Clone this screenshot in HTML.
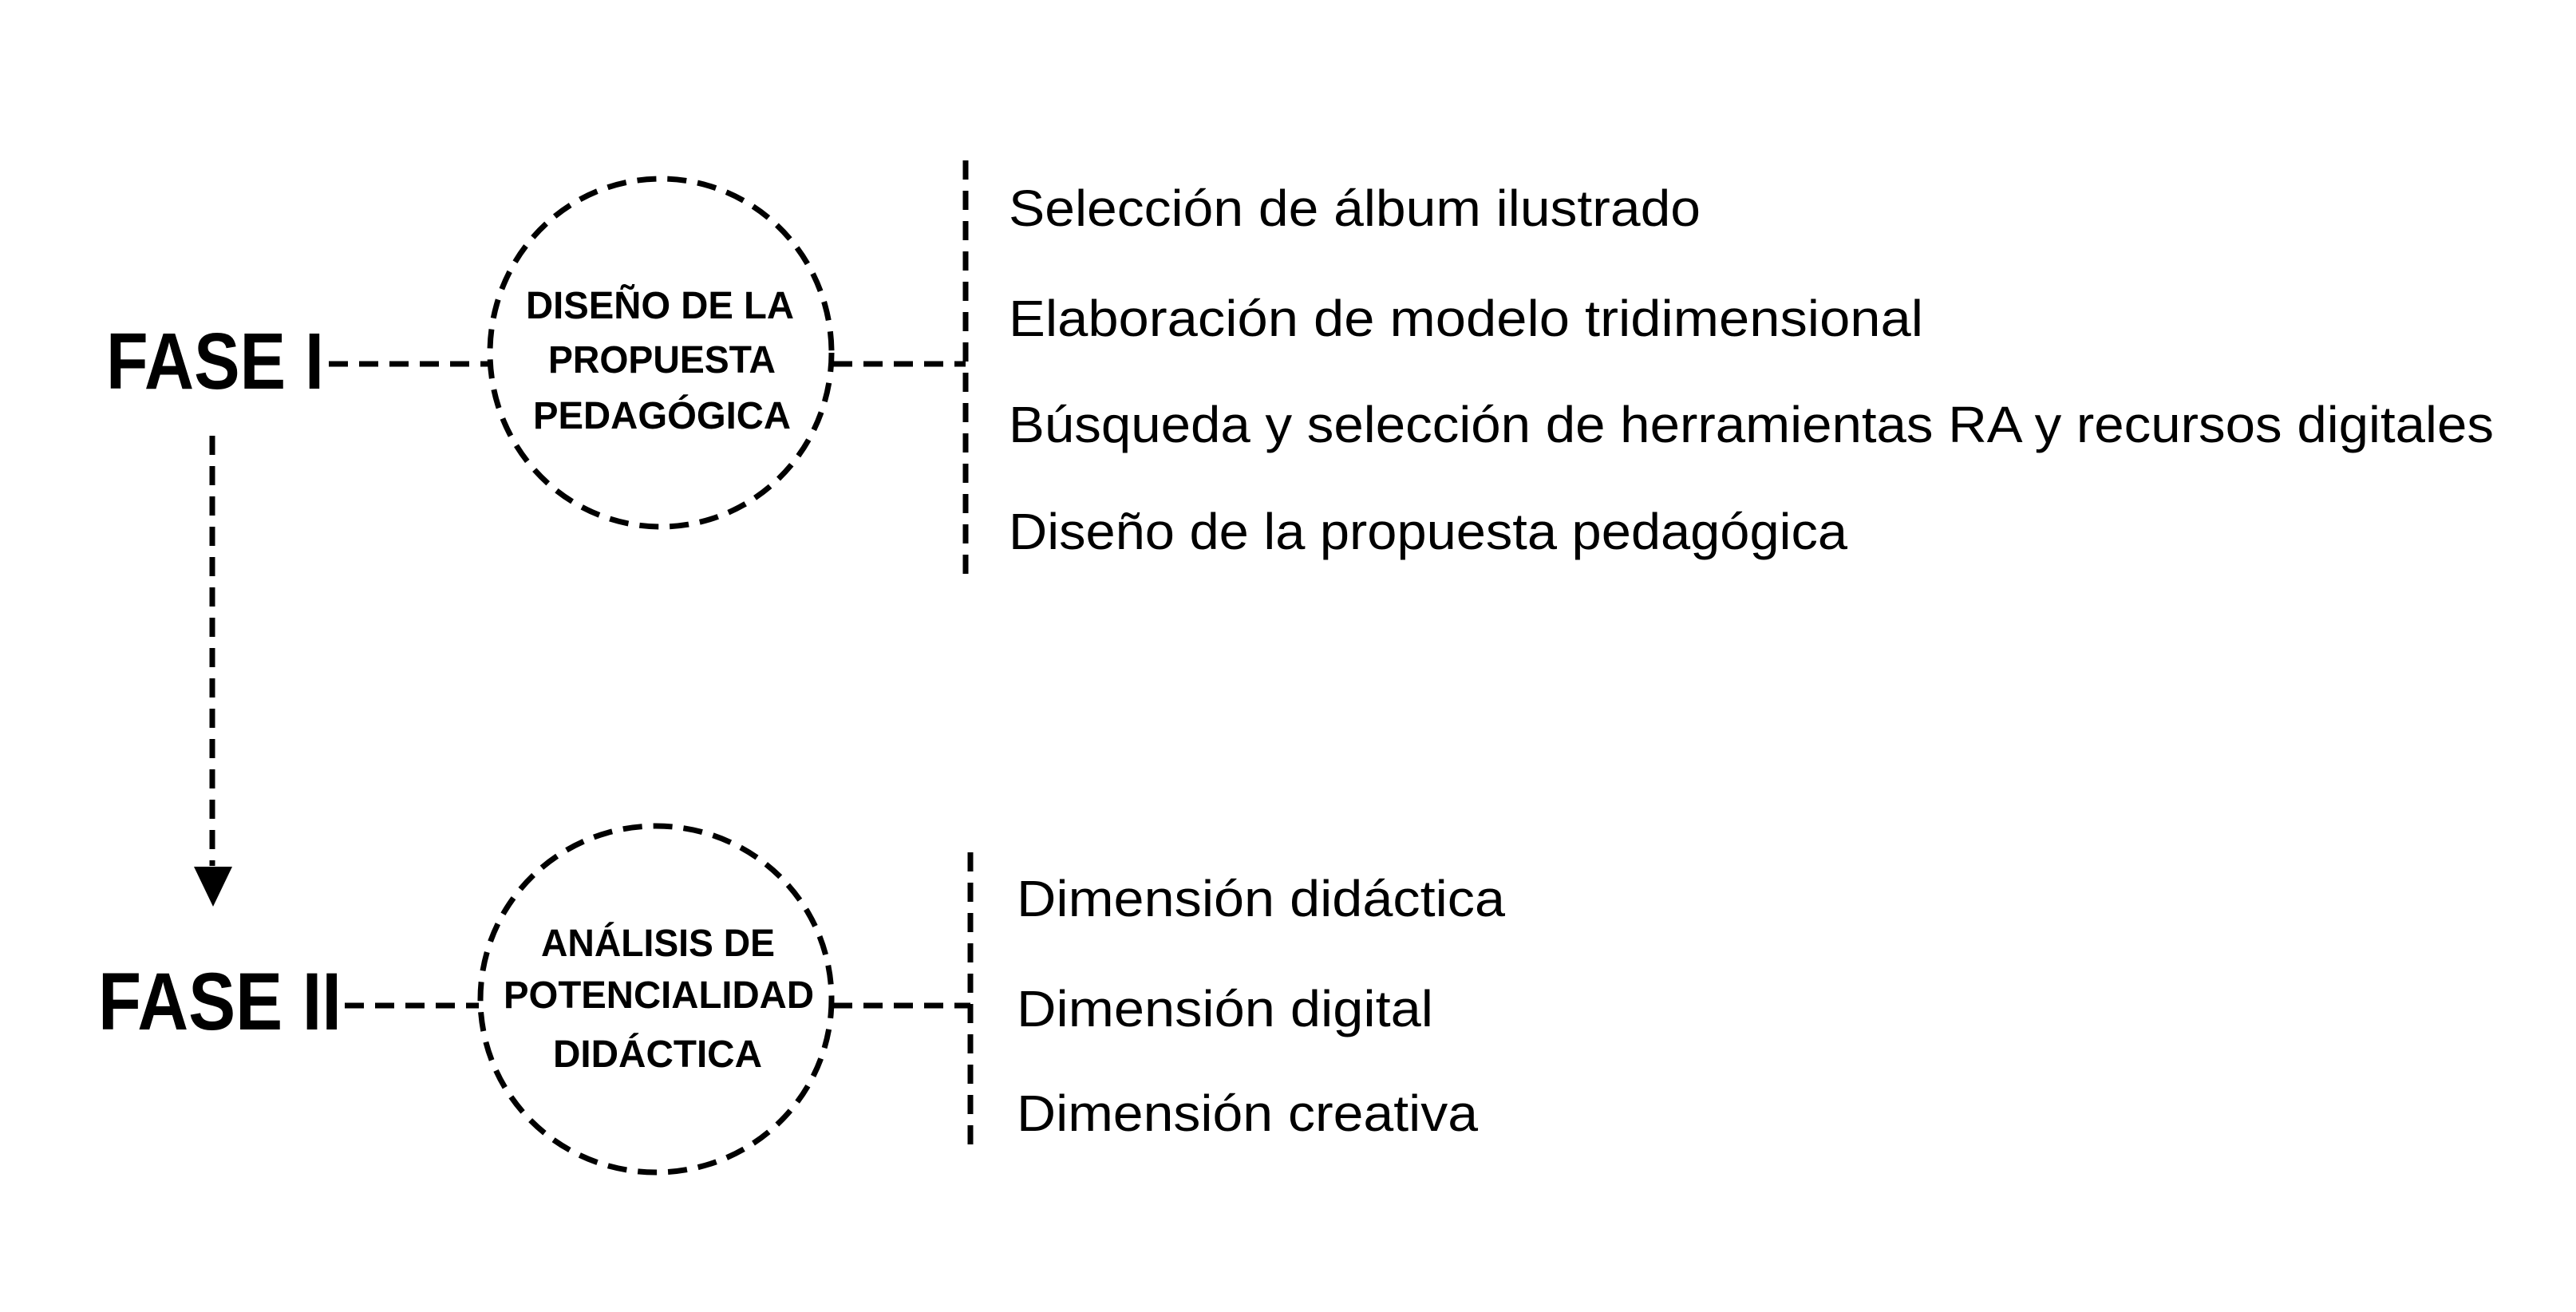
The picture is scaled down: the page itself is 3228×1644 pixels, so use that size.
<!DOCTYPE html>
<html><head><meta charset="utf-8"><style>
html,body{margin:0;padding:0;background:#fff;width:3228px;height:1644px;overflow:hidden}
svg{display:block}
text{font-family:"Liberation Sans",sans-serif;fill:#000}
</style></head><body>
<svg width="3228" height="1644" viewBox="0 0 3228 1644" xmlns="http://www.w3.org/2000/svg">
<g fill="none" stroke="#000" stroke-width="7" stroke-dasharray="24 14">
  <ellipse cx="828" cy="442" rx="214" ry="218"/>
  <ellipse cx="822" cy="1252" rx="220" ry="217"/>
  <line x1="412" y1="456" x2="612" y2="456"/>
  <line x1="1044" y1="456" x2="1210" y2="456"/>
  <line x1="1210" y1="201" x2="1210" y2="727"/>
  <line x1="432" y1="1260" x2="600" y2="1260"/>
  <line x1="1044" y1="1260" x2="1216" y2="1260"/>
  <line x1="1216" y1="1068" x2="1216" y2="1447"/>
  <line x1="266" y1="546" x2="266" y2="1085"/>
</g>
<polygon points="243,1086 291,1086 267,1136" fill="#000"/>
<text x="133" y="487" font-size="100" font-weight="bold" textLength="273" lengthAdjust="spacingAndGlyphs">FASE I</text>
<text x="123" y="1290" font-size="102" font-weight="bold" textLength="305" lengthAdjust="spacingAndGlyphs">FASE II</text>
<g font-size="48" font-weight="bold">
<text x="659" y="399" textLength="336" lengthAdjust="spacingAndGlyphs">DISEÑO DE LA</text>
<text x="687" y="467" textLength="285" lengthAdjust="spacingAndGlyphs">PROPUESTA</text>
<text x="668" y="537" textLength="323" lengthAdjust="spacingAndGlyphs">PEDAGÓGICA</text>
<text x="678" y="1198" textLength="293" lengthAdjust="spacingAndGlyphs">ANÁLISIS DE</text>
<text x="631" y="1263" textLength="389" lengthAdjust="spacingAndGlyphs">POTENCIALIDAD</text>
<text x="693" y="1337" textLength="262" lengthAdjust="spacingAndGlyphs">DIDÁCTICA</text>
</g>
<g font-size="64">
<text x="1264" y="283" textLength="867" lengthAdjust="spacingAndGlyphs">Selección de álbum ilustrado</text>
<text x="1264" y="421" textLength="1146" lengthAdjust="spacingAndGlyphs">Elaboración de modelo tridimensional</text>
<text x="1264" y="554" textLength="1861" lengthAdjust="spacingAndGlyphs">Búsqueda y selección de herramientas RA y recursos digitales</text>
<text x="1264" y="688" textLength="1051" lengthAdjust="spacingAndGlyphs">Diseño de la propuesta pedagógica</text>
<text x="1274" y="1148" textLength="612" lengthAdjust="spacingAndGlyphs">Dimensión didáctica</text>
<text x="1274" y="1286" textLength="522" lengthAdjust="spacingAndGlyphs">Dimensión digital</text>
<text x="1274" y="1417" textLength="578" lengthAdjust="spacingAndGlyphs">Dimensión creativa</text>
</g>
</svg>
</body></html>
